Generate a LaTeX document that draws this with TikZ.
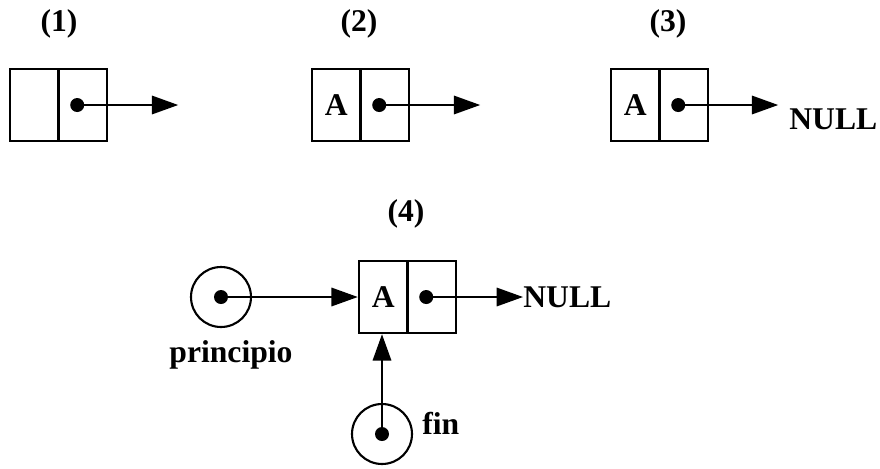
\documentclass[tikz,border=0pt]{standalone}
\usepackage{fontspec}
\setmainfont{Liberation Serif}
\usetikzlibrary{shapes,arrows.meta}

\begin{document}
\begin{tikzpicture}[x=0.02cm,y=-0.02cm,node distance=0.97cm,
    every node/.style={font=\fontsize{18}{21}\selectfont\bfseries}]
    \tikzstyle{cell}=[rectangle,draw,line width=1.4pt,minimum width=0.97cm,minimum height=1.44cm,inner sep=0pt]
    \tikzstyle{dot}=[circle,fill,minimum size=0.28cm,inner sep=0pt]
    \tikzstyle{ptr}=[circle,draw,line width=1.2pt,minimum size=1.2cm,inner sep=0pt]
    \tikzstyle{link}=[line width=1.1pt,-{Triangle[length=15pt,width=10.5pt]}]
    \useasboundingbox (0,0) rectangle (880,468);

    % (1)
    \node(l1) at (59,24) {(1)};
    \node(c1a) [cell] at (34.25,105) {};
    \node(c1b) [cell,right of=c1a] {};
    \node(d1) [dot,xshift=-0.11cm] at (c1b) {};
    \coordinate(e1) at ([xshift=2.02cm]d1.center);

    % (2)
    \node(l2) at (359,24) {(2)};
    \node(c2a) [cell] at (336.25,105) {A};
    \node(c2b) [cell,right of=c2a] {};
    \node(d2) [dot,xshift=-0.11cm] at (c2b) {};
    \coordinate(e2) at ([xshift=2.02cm]d2.center);

    % (3)
    \node(l3) at (668,24) {(3)};
    \node(c3a) [cell] at (635.25,105) {A};
    \node(c3b) [cell,right of=c3a] {};
    \node(d3) [dot,xshift=-0.11cm] at (c3b) {};
    \coordinate(e3) at ([xshift=2.0cm]d3.center);
    \node(n3) [anchor=base west,inner sep=0pt] at (789,129) {NULL};

    % (4)
    \node(l4) at (406,214) {(4)};
    \node(c4a) [cell] at (383.25,297) {A};
    \node(c4b) [cell,right of=c4a] {};
    \node(d4) [dot,xshift=-0.11cm] at (c4b) {};
    \node(n4) [anchor=west,inner sep=0pt] at (523,297) {NULL};

    \node(pc) [ptr] at (221,297) {};
    \node(pd) [dot] at (pc) {};
    \node(pt) at (231,355) {principio};
    \node(fc) [ptr] at (382,434) {};
    \node(fd) [dot] at (fc) {};
    \node(ft) [anchor=base west,inner sep=0pt] at (422,434) {fin};

    \draw [link] (d1.center) -- (e1);
    \draw [link] (d2.center) -- (e2);
    \draw [link] (d3.center) -- (e3);
    \draw [link] (d4.center) -- (d4.center -| n4.west);
    \draw [link] (pd.center) -- (c4a.west);
    \draw [link] (fd.center) -- (fd.center |- c4a.south);

\end{tikzpicture}
\end{document}
